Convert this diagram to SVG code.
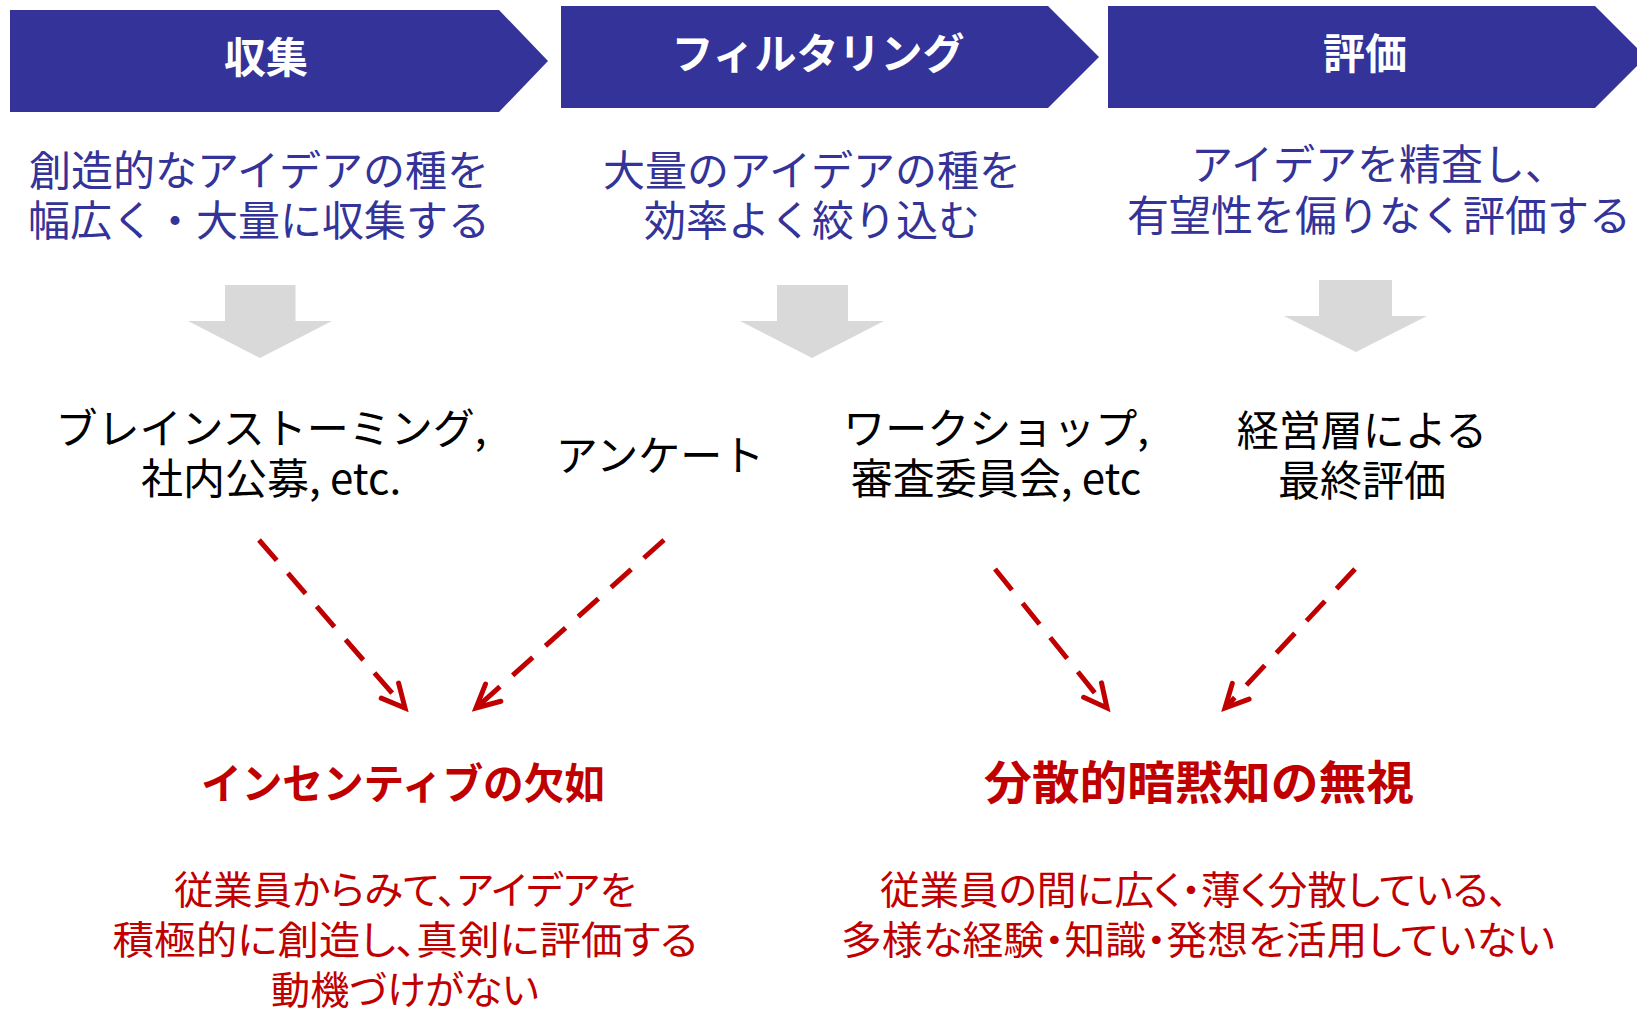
<svg xmlns="http://www.w3.org/2000/svg" width="1637" height="1009" viewBox="0 0 1637 1009">
  <style>
    text { font-family: "Noto Sans CJK JP", "Noto Sans", sans-serif; }
    .banner { fill: #333399; }
    .blabel { fill: #ffffff; font-size: 42px; font-weight: 700; text-anchor: middle; }
    .desc { fill: #333399; font-size: 42px; text-anchor: middle; }
    .method { fill: #000000; font-size: 42px; text-anchor: middle; }
    .issue { fill: #c00000; font-weight: 700; text-anchor: middle; }
    .issuebody { fill: #c00000; font-size: 39px; text-anchor: middle; font-feature-settings: "palt"; }
    .down { fill: #d9d9d9; }
    .dash { fill: none; stroke: #c00000; stroke-width: 5; stroke-dasharray: 27 17; marker-end: url(#chev); }
  </style>
  <defs>
    <marker id="chev" markerUnits="userSpaceOnUse" viewBox="-30 -16 36 32" refX="0" refY="0" markerWidth="36" markerHeight="32" orient="auto">
      <path d="M-23,-11.5 L0,0 L-23,11.5" fill="none" stroke="#c00000" stroke-width="5" stroke-linecap="round" stroke-linejoin="miter"/>
    </marker>
  </defs>
  <rect width="1637" height="1009" fill="#ffffff"/>

  <g id="stage-collect">
    <polygon class="banner" points="10,10 499,10 548,61 499,112 10,112"/>
    <text class="blabel" x="266" y="73">収集</text>
  </g>
  <g id="stage-filter">
    <polygon class="banner" points="561,6 1048,6 1099,57 1048,108 561,108"/>
    <text class="blabel" x="818" y="69">フィルタリング</text>
  </g>
  <g id="stage-eval">
    <polygon class="banner" points="1108,6 1595,6 1646,57 1595,108 1108,108"/>
    <text class="blabel" x="1365" y="69">評価</text>
  </g>

  <g id="desc-collect">
    <text class="desc" x="259" y="186">創造的なアイデアの種を</text>
    <text class="desc" x="259" y="236">幅広く・大量に収集する</text>
  </g>
  <g id="desc-filter">
    <text class="desc" x="812" y="186">大量のアイデアの種を</text>
    <text class="desc" x="812" y="236">効率よく絞り込む</text>
  </g>
  <g id="desc-eval">
    <text class="desc" x="1379" y="180">アイデアを精査し、</text>
    <text class="desc" x="1379" y="231">有望性を偏りなく評価する</text>
  </g>

  <g id="method-brainstorm">
    <text class="method" x="271" y="444">ブレインストーミング,</text>
    <text class="method" x="271" y="494">社内公募, etc.</text>
  </g>
  <g id="method-survey">
    <text class="method" x="660" y="471">アンケート</text>
  </g>
  <g id="method-workshop">
    <text class="method" x="996" y="444">ワークショップ,</text>
    <text class="method" x="996" y="494">審査委員会, etc</text>
  </g>
  <g id="method-management">
    <text class="method" x="1362" y="446">経営層による</text>
    <text class="method" x="1362" y="496">最終評価</text>
  </g>

  <g id="issue-incentive">
    <text class="issue" x="403" y="799" font-size="42" textLength="404" lengthAdjust="spacingAndGlyphs">インセンティブの欠如</text>
    <text class="issuebody" x="405" y="904" textLength="462" lengthAdjust="spacingAndGlyphs">従業員からみて、アイデアを</text>
    <text class="issuebody" x="405" y="954" textLength="585" lengthAdjust="spacingAndGlyphs">積極的に創造し、真剣に評価する</text>
    <text class="issuebody" x="405" y="1004" textLength="268" lengthAdjust="spacingAndGlyphs">動機づけがない</text>
  </g>
  <g id="issue-tacit">
    <text class="issue" x="1199" y="799" font-size="46" textLength="430" lengthAdjust="spacingAndGlyphs">分散的暗黙知の無視</text>
    <text class="issuebody" x="1194" y="904" textLength="628" lengthAdjust="spacingAndGlyphs">従業員の間に広く・薄く分散している、</text>
    <text class="issuebody" x="1198" y="954" textLength="714" lengthAdjust="spacingAndGlyphs">多様な経験・知識・発想を活用していない</text>
  </g>

  <g id="connectors">
    <polygon class="down" points="225,285 295.5,285 295.5,321 332,321 260,358 188,321 225,321"/>
    <polygon class="down" points="777,285 848,285 848,321 884,321 812,358 740,321 777,321"/>
    <polygon class="down" points="1319,280 1392,280 1392,316 1427,316 1356,352 1284,316 1319,316"/>
    <path class="dash" d="M259,540 L405,708"/>
    <path class="dash" d="M664,540 L476,708"/>
    <path class="dash" d="M995,569 L1107,708"/>
    <path class="dash" d="M1355,569 L1225,708"/>
  </g>
</svg>
